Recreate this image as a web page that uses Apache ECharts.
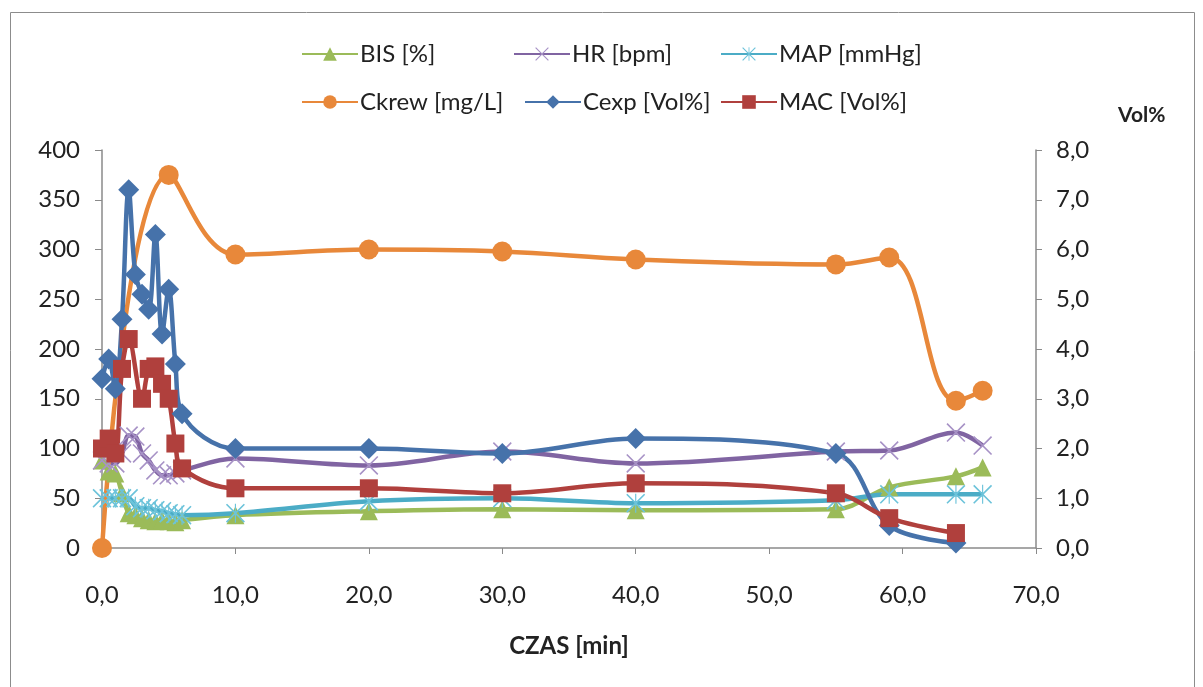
<!DOCTYPE html>
<html>
<head>
<meta charset="utf-8">
<script src="https://cdn.jsdelivr.net/npm/echarts@6/dist/echarts.min.js"></script>
<style>
  html, body { margin: 0; padding: 0; background: #fff; }
  #chart { width: 1203px; height: 687px; }
</style>
</head>
<body>
<div id="chart"></div>
<script>
// --- dane ---
const mainTimes = [0, 0.5, 1, 1.5, 2, 2.5, 3, 3.5, 4, 4.5, 5, 5.5, 6, 10, 20, 30, 40, 55, 59, 64, 66];
const bisValues = [88, 77, 75, 55, 35, 33, 30, 28, 27, 28, 27, 26, 28, 33, 37, 39, 38, 39, 61, 72, 81];
const hrValues  = [88, 85, 85, 95, 113, 112, 95, 88, 78, 73, 73, 75, 78, 90, 83, 97, 85, 97, 98, 116, 103];
const mapValues = [50, 50, 50, 50, 50, 42, 40, 40, 38, 37, 35, 34, 33, 35, 47, 50, 45, 48, 54, 54, 54];

const ckrewTimes  = [0, 5, 10, 20, 30, 40, 55, 59, 64, 66];
const ckrewValues = [0, 375, 295, 300, 298, 290, 285, 292, 148, 158];

const cexpTimes  = [0, 0.5, 1, 1.5, 2, 2.5, 3, 3.5, 4, 4.5, 5, 5.5, 6, 10, 20, 30, 40, 55, 59, 64];
const cexpValues = [3.4, 3.8, 3.2, 4.6, 7.2, 5.5, 5.1, 4.8, 6.3, 4.3, 5.2, 3.7, 2.7, 2.0, 2.0, 1.9, 2.2, 1.9, 0.45, 0.1];

const macTimes  = [0, 0.5, 1, 1.5, 2, 3, 3.5, 4, 4.5, 5, 5.5, 6, 10, 20, 30, 40, 55, 59, 64];
const macValues = [2.0, 2.2, 1.9, 3.6, 4.2, 3.0, 3.6, 3.65, 3.3, 3.0, 2.1, 1.6, 1.2, 1.2, 1.1, 1.3, 1.1, 0.6, 0.3];

const leftTicks = [0, 50, 100, 150, 200, 250, 300, 350, 400];
const rightTicks = [0, 1, 2, 3, 4, 5, 6, 7, 8];
const xTicks = [0, 10, 20, 30, 40, 50, 60, 70];

const zip = (xs, ys) => xs.map((x, i) => [x, ys[i]]);
const comma = v => v.toFixed(1).replace('.', ',');

// znaczniki: krzyzyk i gwiazdka jako cienkie wielokaty
const crossPath = 'path://M0 1.2L1.2 0L20 18.8L18.8 20Z M18.8 0L20 1.2L1.2 20L0 18.8Z';
const starPath = crossPath + ' M9.4 0L10.6 0L10.6 20L9.4 20Z';

const FONT = 'Lato, "Open Sans", sans-serif';
const FS = 24;
const axisGray = '#8a8a8a';

const mkSeries = (name, data, color, symbol, size, yIdx, markColor, smooth) => ({
  name: name,
  type: 'line',
  yAxisIndex: yIdx,
  data: data,
  smooth: smooth || 0.35,
  symbol: symbol,
  symbolSize: size,
  showAllSymbol: true,
  lineStyle: { color: color, width: 4.5 },
  itemStyle: { color: markColor || color },
  emphasis: { disabled: true },
  z: 2
});

const legendPos = [
  ['BIS [%]', 301, 42],
  ['HR [bpm]', 513, 42],
  ['MAP [mmHg]', 720, 42],
  ['Ckrew [mg/L]', 301, 90],
  ['Cexp [Vol%]', 524, 90],
  ['MAC [Vol%]', 720, 90]
];

const chart = echarts.init(document.getElementById('chart'));
chart.setOption({
  animation: false,
  backgroundColor: '#fff',
  textStyle: { fontFamily: FONT },
  graphic: [{
    type: 'rect',
    shape: { x: 10.5, y: 12.5, width: 1184, height: 690 },
    style: { fill: 'none', stroke: '#8c8c8c', lineWidth: 1 },
    silent: true
  }],
  legend: legendPos.map(([name, left, top]) => ({
    data: [name],
    left: left,
    top: top,
    padding: 0,
    itemWidth: 56,
    itemHeight: 17,
    selectedMode: false,
    textStyle: { fontSize: FS, color: '#222', fontFamily: FONT, padding: [0, 0, 0, -3] }
  })),
  grid: { left: 102, right: 167, top: 150, bottom: 139 },
  xAxis: {
    type: 'value',
    min: 0,
    max: 70,
    interval: 10,
    name: 'CZAS [min]',
    nameLocation: 'middle',
    nameGap: 86,
    nameTextStyle: { fontSize: FS, fontWeight: 'bold', color: '#222' },
    axisLine: { lineStyle: { color: axisGray, width: 1.5 } },
    axisTick: { length: 6, lineStyle: { color: axisGray } },
    axisLabel: { fontSize: FS, color: '#222', margin: 35, formatter: comma },
    splitLine: { show: false }
  },
  yAxis: [{
    type: 'value',
    min: leftTicks[0],
    max: leftTicks[leftTicks.length - 1],
    interval: 50,
    axisLine: { show: true, lineStyle: { color: axisGray, width: 1.5 } },
    axisTick: { show: true, length: 7, lineStyle: { color: axisGray } },
    axisLabel: { fontSize: FS, color: '#222', margin: 22 },
    splitLine: { show: false }
  }, {
    type: 'value',
    position: 'right',
    min: rightTicks[0],
    max: rightTicks[rightTicks.length - 1],
    interval: 1,
    name: 'Vol%',
    nameLocation: 'end',
    nameGap: 35,
    nameTextStyle: { fontSize: 21, fontWeight: 'bold', color: '#222', align: 'left', verticalAlign: 'middle', padding: [0, 0, 0, 82] },
    axisLine: { show: true, lineStyle: { color: axisGray, width: 1.5 } },
    axisTick: { show: true, length: 6, lineStyle: { color: axisGray } },
    axisLabel: { fontSize: FS, color: '#222', margin: 20, formatter: comma },
    splitLine: { show: false }
  }],
  series: [
    mkSeries('BIS [%]', zip(mainTimes, bisValues), '#9BBB59', 'triangle', 18, 0),
    mkSeries('HR [bpm]', zip(mainTimes, hrValues), '#8064A2', crossPath, 19, 0, '#a792c6'),
    mkSeries('MAP [mmHg]', zip(mainTimes, mapValues), '#4BACC6', starPath, 19, 0, '#6cc3da'),
    mkSeries('Ckrew [mg/L]', zip(ckrewTimes, ckrewValues), '#E8883A', 'circle', 20, 0, null, 0.4),
    mkSeries('Cexp [Vol%]', zip(cexpTimes, cexpValues), '#4672AA', 'diamond', 21, 1),
    mkSeries('MAC [Vol%]', zip(macTimes, macValues), '#B0403D', 'rect', 18, 1)
  ]
});
</script>
</body>
</html>
